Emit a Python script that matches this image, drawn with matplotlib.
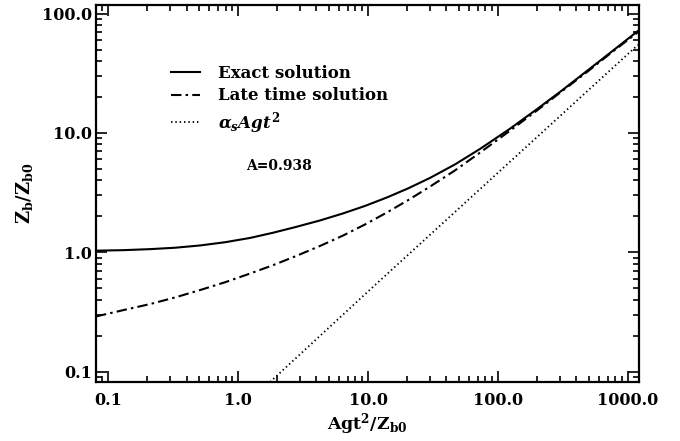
import numpy as np
import matplotlib
matplotlib.use('Agg')
import matplotlib.pyplot as plt
from matplotlib.ticker import FixedLocator, LogLocator, NullFormatter

plt.rcParams['font.family'] = 'DejaVu Serif'
plt.rcParams['font.weight'] = 'bold'
plt.rcParams['mathtext.fontset'] = 'custom'
plt.rcParams['mathtext.rm'] = 'DejaVu Serif:bold'
plt.rcParams['mathtext.bf'] = 'DejaVu Serif:bold'
plt.rcParams['mathtext.it'] = 'DejaVu Serif:bold:italic'

# Agt^2/Z_b0 values
x_pts = [0.0803, 0.1297, 0.2093, 0.3262, 0.5078, 0.7912, 1.233, 1.854, 2.787, 4.266,
         6.415, 9.475, 13.99, 20.30, 30.00, 46.72, 72.80, 121.8, 203.6, 311.6,
         485.6, 756.4, 1199.0]
# exact solution Z_b/Z_b0
exact = [1.031, 1.041, 1.062, 1.091, 1.140, 1.213, 1.318, 1.457, 1.630, 1.847,
         2.115, 2.444, 2.880, 3.426, 4.196, 5.445, 7.341, 10.70, 16.05, 22.71,
         33.09, 48.22, 71.61]
# late time solution
late = [0.2897, 0.3270, 0.3679, 0.4180, 0.4820, 0.5604, 0.6630, 0.7795, 0.9293, 1.129,
        1.380, 1.710, 2.156, 2.729, 3.548, 4.850, 6.837, 10.29, 15.65, 22.37,
        32.39, 47.48, 69.85]
# alpha_s A g t^2 line
x_dot = [1.758, 11.93, 1199.0]
y_dot = [0.0818, 0.56, 54.7]

xtick_vals = [0.1, 1, 10, 100, 1000]
xtick_labels = ['0.1', '1.0', '10.0', '100.0', '1000.0']
ytick_vals = [0.1, 1, 10, 100]
ytick_labels = ['0.1', '1.0', '10.0', '100.0']

fig = plt.figure(figsize=(6.8, 4.41), dpi=100)
ax = fig.add_axes([96/680, 59/441, 543/680, 377/441])

ax.plot(x_pts, exact, color='black', lw=1.5, ls='-', label='Exact solution')
ax.plot(x_pts, late, color='black', lw=1.5, ls=(0, (5, 2, 1.2, 2)), label='Late time solution')
ax.plot(x_dot, y_dot, color='black', lw=1.3, ls=(0, (0.8, 1.6)), label=r'$\alpha_s Agt^2$')

ax.set_xscale('log')
ax.set_yscale('log')
ax.set_xlim(0.0803, 1221)
ax.set_ylim(0.0818, 118)

ax.xaxis.set_major_locator(FixedLocator(xtick_vals))
ax.set_xticklabels(xtick_labels)
ax.yaxis.set_major_locator(FixedLocator(ytick_vals))
ax.set_yticklabels(ytick_labels)
ax.xaxis.set_minor_locator(LogLocator(base=10, subs=np.arange(2, 10), numticks=20))
ax.yaxis.set_minor_locator(LogLocator(base=10, subs=np.arange(2, 10), numticks=20))
ax.xaxis.set_minor_formatter(NullFormatter())
ax.yaxis.set_minor_formatter(NullFormatter())

ax.tick_params(which='both', direction='in', top=True, right=True, width=1.2)
ax.tick_params(which='major', length=8, labelsize=11.5)
ax.tick_params(which='minor', length=4.5)
ax.tick_params(axis='x', which='major', pad=7)
ax.tick_params(axis='y', which='major', pad=3)
for s in ax.spines.values():
    s.set_linewidth(1.6)

ax.set_xlabel(r'$\mathbf{Agt^2/Z_{b0}}$', fontsize=12.5, labelpad=2)
ax.set_ylabel(r'$\mathbf{Z_b/Z_{b0}}$', fontsize=13, labelpad=5)

leg = ax.legend(loc='upper left', bbox_to_anchor=(0.111, 0.881), frameon=False,
                fontsize=12, handlelength=1.74, handletextpad=1.08, labelspacing=0.33)

ax.text(0.337, 0.573, 'A=0.938', transform=ax.transAxes, fontsize=10,
        ha='center', va='center')

fig.savefig('out.png', dpi=100)
